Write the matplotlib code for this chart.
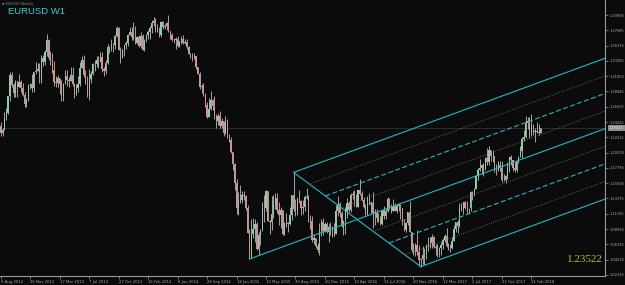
import numpy as np
import pandas as pd
import matplotlib
matplotlib.use("Agg")
import matplotlib.pyplot as plt
import matplotlib.dates as mdates
import matplotlib.transforms as mtransforms

# ============================================================
# DATA  (EURUSD weekly candles)
# ============================================================
FIRST_WEEK = "2012-08-05"
FIRST_OPEN = 1.2390

CLOSE = [
    # 2012
    1.2290, 1.2330, 1.2510, 1.2580, 1.2815, 1.3125, 1.2980, 1.2860, 1.3040, 1.2950, 1.3020,
    1.2940, 1.2830, 1.2710, 1.2750, 1.2975, 1.2985, 1.2930, 1.3160, 1.3180, 1.3215, 1.3070,
    # 2013
    1.3365, 1.3315, 1.3455, 1.3635, 1.3365, 1.3360, 1.3190, 1.3020, 1.3000, 1.3075, 1.2985,
    1.2820, 1.2995, 1.3110, 1.3050, 1.3030, 1.3115, 1.2985, 1.2835, 1.2935, 1.2990, 1.3220,
    1.3345, 1.3120, 1.3010, 1.2830, 1.3070, 1.3140, 1.3275, 1.3280, 1.3345, 1.3325, 1.3380,
    1.3215, 1.3180, 1.3295, 1.3525, 1.3525, 1.3555, 1.3550, 1.3685, 1.3800, 1.3490, 1.3365,
    1.3500, 1.3555, 1.3590, 1.3705, 1.3740, 1.3675, 1.3675, 1.3590,
    # 2014
    1.3670, 1.3540, 1.3680, 1.3485, 1.3635, 1.3695, 1.3740, 1.3805, 1.3875, 1.3910, 1.3790,
    1.3750, 1.3705, 1.3885, 1.3815, 1.3830, 1.3870, 1.3755, 1.3695, 1.3630, 1.3635, 1.3640,
    1.3540, 1.3610, 1.3645, 1.3590, 1.3605, 1.3525, 1.3430, 1.3425, 1.3410, 1.3400, 1.3240,
    1.3130, 1.2950, 1.2965, 1.2835, 1.2685, 1.2520, 1.2630, 1.2760, 1.2670, 1.2525, 1.2455,
    1.2525, 1.2390, 1.2450, 1.2285, 1.2465, 1.2225, 1.2185, 1.2005,
    # 2015
    1.1840, 1.1560, 1.1205, 1.1290, 1.1315, 1.1390, 1.1380, 1.1195, 1.0840, 1.0495, 1.0825,
    1.0890, 1.0970, 1.0600, 1.0805, 1.0875, 1.1200, 1.1200, 1.1445, 1.1015, 1.0990, 1.1115,
    1.1260, 1.1350, 1.1165, 1.1105, 1.1165, 1.0830, 1.0985, 1.0985, 1.0970, 1.1105, 1.1385,
    1.1180, 1.1150, 1.1340, 1.1300, 1.1200, 1.1215, 1.1355, 1.1350, 1.1015, 1.1005, 1.0740,
    1.0770, 1.0645, 1.0590, 1.0885, 1.0990, 1.0865, 1.0965, 1.0855,
    # 2016
    1.0925, 1.0915, 1.0795, 1.0830, 1.1155, 1.1255, 1.1130, 1.0935, 1.1000, 1.1145, 1.1270,
    1.1170, 1.1390, 1.1395, 1.1285, 1.1220, 1.1455, 1.1400, 1.1310, 1.1220, 1.1115, 1.1365,
    1.1250, 1.1275, 1.1120, 1.1135, 1.1050, 1.1040, 1.0975, 1.1175, 1.1085, 1.1160, 1.1325,
    1.1195, 1.1155, 1.1235, 1.1155, 1.1225, 1.1240, 1.1200, 1.0970, 1.0880, 1.0985, 1.1140,
    1.0850, 1.0590, 1.0585, 1.0665, 1.0560, 1.0450, 1.0455, 1.0520,
    # 2017
    1.0530, 1.0645, 1.0700, 1.0695, 1.0780, 1.0640, 1.0615, 1.0560, 1.0620, 1.0670, 1.0740,
    1.0800, 1.0650, 1.0640, 1.0615, 1.0725, 1.0895, 1.0995, 1.0935, 1.1205, 1.1165, 1.1285,
    1.1195, 1.1195, 1.1195, 1.1425, 1.1400, 1.1470, 1.1665, 1.1750, 1.1775, 1.1820, 1.1760,
    1.1925, 1.1860, 1.2035, 1.1945, 1.1950, 1.1815, 1.1730, 1.1820, 1.1780, 1.1605, 1.1610,
    1.1665, 1.1795, 1.1935, 1.1895, 1.1775, 1.1750, 1.1860, 1.1940, 1.2030,
    # 2018
    1.2200, 1.2220, 1.2425, 1.2460, 1.2250, 1.2405, 1.2295, 1.2315, 1.2305, 1.2285, 1.2352,
]

HIGH = [
    # 2012
    1.2443, 1.2360, 1.2588, 1.2640, 1.2815, 1.3170, 1.3170, 1.3000, 1.3045, 1.3000, 1.3140,
    1.3050, 1.3010, 1.2880, 1.2790, 1.2985, 1.3010, 1.3130, 1.3170, 1.3310, 1.3290, 1.3300,
    # 2013
    1.3405, 1.3405, 1.3480, 1.3710, 1.3640, 1.3470, 1.3440, 1.3320, 1.3110, 1.3115, 1.3000,
    1.3050, 1.3000, 1.3200, 1.3200, 1.3090, 1.3245, 1.3245, 1.3005, 1.2995, 1.3110, 1.3305,
    1.3390, 1.3415, 1.3190, 1.3110, 1.3205, 1.3175, 1.3300, 1.3345, 1.3395, 1.3390, 1.3450,
    1.3450, 1.3240, 1.3335, 1.3570, 1.3545, 1.3645, 1.3590, 1.3705, 1.3830, 1.3815, 1.3530,
    1.3505, 1.3560, 1.3620, 1.3710, 1.3810, 1.3810, 1.3895, 1.3825,
    # 2014
    1.3690, 1.3700, 1.3740, 1.3715, 1.3640, 1.3715, 1.3775, 1.3825, 1.3915, 1.3965, 1.3945,
    1.3865, 1.3810, 1.3905, 1.3905, 1.3855, 1.3890, 1.3993, 1.3765, 1.3735, 1.3650, 1.3670,
    1.3680, 1.3615, 1.3680, 1.3700, 1.3640, 1.3640, 1.3535, 1.3445, 1.3445, 1.3435, 1.3400,
    1.3225, 1.3170, 1.2990, 1.3000, 1.2865, 1.2730, 1.2790, 1.2885, 1.2780, 1.2815, 1.2555,
    1.2580, 1.2600, 1.2505, 1.2460, 1.2530, 1.2480, 1.2265, 1.2225,
    # 2015
    1.1965, 1.1850, 1.1615, 1.1425, 1.1535, 1.1445, 1.1450, 1.1390, 1.1245, 1.0890, 1.1045,
    1.1050, 1.1035, 1.1000, 1.0850, 1.0900, 1.1290, 1.1390, 1.1465, 1.1445, 1.1030, 1.1380,
    1.1385, 1.1410, 1.1410, 1.1280, 1.1215, 1.1130, 1.0995, 1.1130, 1.1000, 1.1215, 1.1390,
    1.1714, 1.1330, 1.1345, 1.1460, 1.1320, 1.1320, 1.1390, 1.1495, 1.1390, 1.1095, 1.1090,
    1.0830, 1.0760, 1.0690, 1.0985, 1.1045, 1.1060, 1.0990, 1.0995,
    # 2016
    1.0970, 1.0990, 1.0945, 1.0985, 1.1245, 1.1375, 1.1280, 1.1160, 1.1020, 1.1215, 1.1340,
    1.1295, 1.1410, 1.1440, 1.1465, 1.1395, 1.1460, 1.1615, 1.1440, 1.1355, 1.1250, 1.1375,
    1.1415, 1.1300, 1.1425, 1.1185, 1.1185, 1.1120, 1.1080, 1.1175, 1.1235, 1.1190, 1.1365,
    1.1340, 1.1250, 1.1330, 1.1270, 1.1260, 1.1270, 1.1255, 1.1200, 1.1040, 1.1000, 1.1145,
    1.1300, 1.0850, 1.0690, 1.0690, 1.0875, 1.0670, 1.0470, 1.0655,
    # 2017
    1.0620, 1.0685, 1.0775, 1.0775, 1.0830, 1.0800, 1.0680, 1.0680, 1.0635, 1.0715, 1.0760,
    1.0830, 1.0905, 1.0690, 1.0680, 1.0780, 1.0950, 1.1000, 1.1020, 1.1265, 1.1270, 1.1285,
    1.1295, 1.1295, 1.1200, 1.1445, 1.1440, 1.1490, 1.1680, 1.1775, 1.1910, 1.1830, 1.1850,
    1.1940, 1.2070, 1.2092, 1.2030, 1.2035, 1.1935, 1.1830, 1.1880, 1.1880, 1.1880, 1.1690,
    1.1670, 1.1860, 1.1940, 1.1960, 1.1890, 1.1860, 1.1880, 1.1945, 1.2090,
    # 2018
    1.2220, 1.2325, 1.2535, 1.2520, 1.2510, 1.2555, 1.2410, 1.2355, 1.2445, 1.2410, 1.2360,
]

LOW = [
    # 2012
    1.2240, 1.2240, 1.2330, 1.2470, 1.2560, 1.2745, 1.2955, 1.2800, 1.2805, 1.2800, 1.2950,
    1.2880, 1.2820, 1.2660, 1.2660, 1.2740, 1.2925, 1.2880, 1.2880, 1.3140, 1.3190, 1.3000,
    # 2013
    1.3000, 1.3255, 1.3260, 1.3400, 1.3340, 1.3270, 1.3145, 1.2965, 1.2955, 1.2955, 1.2845,
    1.2750, 1.2745, 1.2990, 1.2970, 1.2955, 1.3040, 1.2960, 1.2795, 1.2850, 1.2880, 1.2960,
    1.3220, 1.3100, 1.2990, 1.2805, 1.2755, 1.3005, 1.3120, 1.3185, 1.3240, 1.3225, 1.3310,
    1.3170, 1.3105, 1.3135, 1.3280, 1.3435, 1.3475, 1.3460, 1.3500, 1.3665, 1.3480, 1.3295,
    1.3375, 1.3400, 1.3500, 1.3545, 1.3700, 1.3625, 1.3625, 1.3575,
    # 2014
    1.3570, 1.3530, 1.3510, 1.3480, 1.3475, 1.3595, 1.3640, 1.3640, 1.3735, 1.3830, 1.3750,
    1.3745, 1.3675, 1.3675, 1.3790, 1.3785, 1.3775, 1.3750, 1.3645, 1.3615, 1.3585, 1.3500,
    1.3530, 1.3525, 1.3565, 1.3575, 1.3570, 1.3495, 1.3420, 1.3365, 1.3330, 1.3350, 1.3215,
    1.3130, 1.2920, 1.2860, 1.2815, 1.2665, 1.2500, 1.2570, 1.2620, 1.2615, 1.2480, 1.2360,
    1.2400, 1.2360, 1.2360, 1.2245, 1.2270, 1.2215, 1.2160, 1.2000,
    # 2015
    1.1755, 1.1460, 1.1115, 1.1100, 1.1270, 1.1270, 1.1315, 1.1175, 1.0835, 1.0462, 1.0470,
    1.0765, 1.0710, 1.0590, 1.0520, 1.0660, 1.0865, 1.1000, 1.1155, 1.1015, 1.0820, 1.0885,
    1.1050, 1.1190, 1.1130, 1.0955, 1.0915, 1.0810, 1.0810, 1.0925, 1.0850, 1.0960, 1.1020,
    1.1160, 1.1085, 1.1105, 1.1265, 1.1105, 1.1110, 1.1160, 1.1330, 1.1000, 1.0895, 1.0705,
    1.0675, 1.0620, 1.0565, 1.0525, 1.0800, 1.0805, 1.0855, 1.0845,
    # 2016
    1.0710, 1.0815, 1.0780, 1.0810, 1.0825, 1.1090, 1.1065, 1.0930, 1.0810, 1.0820, 1.1055,
    1.1145, 1.1145, 1.1330, 1.1235, 1.1215, 1.1215, 1.1385, 1.1300, 1.1200, 1.1095, 1.1100,
    1.1240, 1.1130, 1.0910, 1.0955, 1.0995, 1.1000, 1.0950, 1.0950, 1.1045, 1.1045, 1.1145,
    1.1185, 1.1125, 1.1150, 1.1150, 1.1125, 1.1160, 1.1045, 1.0955, 1.0860, 1.0850, 1.0960,
    1.0850, 1.0570, 1.0520, 1.0505, 1.0525, 1.0365, 1.0352, 1.0390,
    # 2017
    1.0372, 1.0455, 1.0580, 1.0620, 1.0620, 1.0620, 1.0520, 1.0490, 1.0495, 1.0525, 1.0600,
    1.0705, 1.0640, 1.0595, 1.0570, 1.0605, 1.0860, 1.0850, 1.0840, 1.0925, 1.1160, 1.1110,
    1.1190, 1.1130, 1.1120, 1.1160, 1.1310, 1.1370, 1.1470, 1.1610, 1.1730, 1.1690, 1.1660,
    1.1745, 1.1825, 1.1825, 1.1880, 1.1860, 1.1715, 1.1670, 1.1730, 1.1730, 1.1575, 1.1590,
    1.1555, 1.1625, 1.1715, 1.1825, 1.1730, 1.1720, 1.1720, 1.1845, 1.1995,
    # 2018
    1.1915, 1.2165, 1.2215, 1.2335, 1.2205, 1.2235, 1.2260, 1.2155, 1.2280, 1.2260, 1.2300,
]

PRICE_TICKS = [
    1.39895, 1.37685, 1.35475, 1.33265, 1.31055, 1.28845, 1.26635, 1.24425, 1.22215,
    1.20005, 1.17795, 1.15585, 1.13375, 1.11165, 1.08955, 1.06745, 1.04535, 1.02325,
]

DATE_LABELS = [
    "5 Aug 2012", "25 Nov 2012", "17 Mar 2013", "7 Jul 2013", "27 Oct 2013",
    "16 Feb 2014", "8 Jun 2014", "28 Sep 2014", "18 Jan 2015", "10 May 2015",
    "30 Aug 2015", "20 Dec 2015", "10 Apr 2016", "31 Jul 2016", "20 Nov 2016",
    "12 Mar 2017", "2 Jul 2017", "22 Oct 2017", "11 Feb 2018",
]

LAST_PRICE = 1.23522

# Andrews pitchfork anchors (week, price)
PF_HANDLE = ("2015-03-08", 1.0462)
PF_UPPER = ("2015-08-23", 1.1714)
PF_LOWER = ("2016-12-18", 1.0352)
FORK_LEVELS = [0.0, 0.125, 0.25, 0.375, 0.5, 0.625, 0.75, 0.875, 1.0]

# ============================================================
# STYLE
# ============================================================
BG = "#0b0b0b"
AXIS_COL = "#9a9a9a"
TEXT_COL = "#a8a8a8"
BULL_COL = "#8ccfa6"
BEAR_COL = "#e08c8c"
WICK_COL = "#bdbdbd"
FORK_COL = "#22b8c6"
DOT_COL = "#8a8a8a"

W_PX, H_PX = 625, 285
PLOT_RIGHT_PX = 605
PLOT_BOTTOM_PX = 276


def level_style(f):
    if f in (0.0, 0.5, 1.0):
        return dict(color=FORK_COL, lw=0.8, ls="-")
    if f in (0.25, 0.75):
        return dict(color=FORK_COL, lw=0.8, ls=(0, (4.5, 2.2)))
    return dict(color=DOT_COL, lw=0.6, ls=(0, (0.8, 1.6)))


def main():
    close = np.array(CLOSE)
    high = np.array(HIGH)
    low = np.array(LOW)
    opens = np.r_[FIRST_OPEN, close[:-1]]
    high = np.maximum(high, np.maximum(opens, close))
    low = np.minimum(low, np.minimum(opens, close))

    weeks = pd.date_range(FIRST_WEEK, periods=len(close), freq="7D")
    x = mdates.date2num(weeks.values)

    fig = plt.figure(figsize=(W_PX / 100, H_PX / 100), dpi=100)
    fig.patch.set_facecolor(BG)
    ax = fig.add_axes([0, (H_PX - PLOT_BOTTOM_PX) / H_PX,
                       PLOT_RIGHT_PX / W_PX, PLOT_BOTTOM_PX / H_PX])
    ax.set_facecolor(BG)

    x_left = x[0] - 0.38 * 7
    x_right = x[0] + 328.0 * 7
    ax.set_xlim(x_left, x_right)
    ax.set_ylim(1.02163, 1.42064)

    # --- bid line ---
    ax.axhline(LAST_PRICE, color="#3a3a3a", lw=0.5, zorder=1)

    # --- candles ---
    up = close >= opens
    ax.vlines(x, low, high, colors=WICK_COL, lw=0.6, zorder=2)
    body_lo = np.minimum(opens, close)
    body_h = np.maximum(np.abs(close - opens), 0.0004)
    ax.bar(x, body_h, bottom=body_lo, width=4.8,
           color=np.where(up, BULL_COL, BEAR_COL), lw=0, zorder=3)

    # --- pitchfork (median from handle, tines + levels from the upper-lower segment) ---
    hx, hy = mdates.date2num(pd.Timestamp(PF_HANDLE[0])), PF_HANDLE[1]
    ux, uy = mdates.date2num(pd.Timestamp(PF_UPPER[0])), PF_UPPER[1]
    lx, ly = mdates.date2num(pd.Timestamp(PF_LOWER[0])), PF_LOWER[1]
    mx, my = (ux + lx) / 2, (uy + ly) / 2
    slope = (my - hy) / (mx - hx)

    ax.plot([ux, lx], [uy, ly], color=FORK_COL, lw=0.8, zorder=4)
    for f in FORK_LEVELS:
        if f == 0.5:
            sx, sy = hx, hy
        else:
            sx, sy = lx + f * (ux - lx), ly + f * (uy - ly)
        ey = sy + slope * (x_right - sx)
        ax.plot([sx, x_right], [sy, ey], zorder=4, **level_style(f))

    # --- axes look ---
    for s in ("top", "left"):
        ax.spines[s].set_visible(False)
    for s in ("right", "bottom"):
        ax.spines[s].set_color(AXIS_COL)
        ax.spines[s].set_linewidth(0.8)

    ax.yaxis.tick_right()
    ax.set_yticks(PRICE_TICKS)
    ax.set_yticklabels([f"{v:.5f}" for v in PRICE_TICKS])
    ax.tick_params(axis="y", colors=AXIS_COL, labelcolor=TEXT_COL,
                   labelsize=2.6, length=2, width=0.5, pad=1.2)

    tick_dates = pd.to_datetime(DATE_LABELS, format="%d %b %Y")
    ax.set_xticks(mdates.date2num(tick_dates.values))
    ax.set_xticklabels(DATE_LABELS)
    plt.setp(ax.get_xticklabels(), ha="left")
    ax.tick_params(axis="x", colors=AXIS_COL, labelcolor=TEXT_COL,
                   labelsize=2.7, length=2, width=0.5, pad=0.8)

    # current price marker on the price scale
    trans = mtransforms.blended_transform_factory(ax.transAxes, ax.transData)
    ax.text(1.0 + 4 / PLOT_RIGHT_PX, LAST_PRICE, f"{LAST_PRICE:.5f}",
            transform=trans, ha="left", va="center", fontsize=2.6,
            color="#f0f0f0", clip_on=False,
            bbox=dict(boxstyle="square,pad=0.25", fc="#8c8c8c", ec="none"))

    # --- labels ---
    fig.text(2 / W_PX, 1 - 4.5 / H_PX, "\u25bc EURUSD,Weekly", fontsize=2.4,
             color="#8a8a8a", ha="left", va="center")
    fig.text(8 / W_PX, 1 - 14 / H_PX, "EURUSD W1", fontsize=6.8,
             family="Liberation Sans", color="#2ed2dc", ha="left", va="baseline")
    fig.text(603 / W_PX, 1 - 259 / H_PX, f"{LAST_PRICE:.5f}", fontsize=8,
             family="Liberation Serif", color="#9acd32", ha="right", va="center")

    fig.savefig("out.png", dpi=100, facecolor=fig.get_facecolor())
    plt.close(fig)


if __name__ == "__main__":
    main()
